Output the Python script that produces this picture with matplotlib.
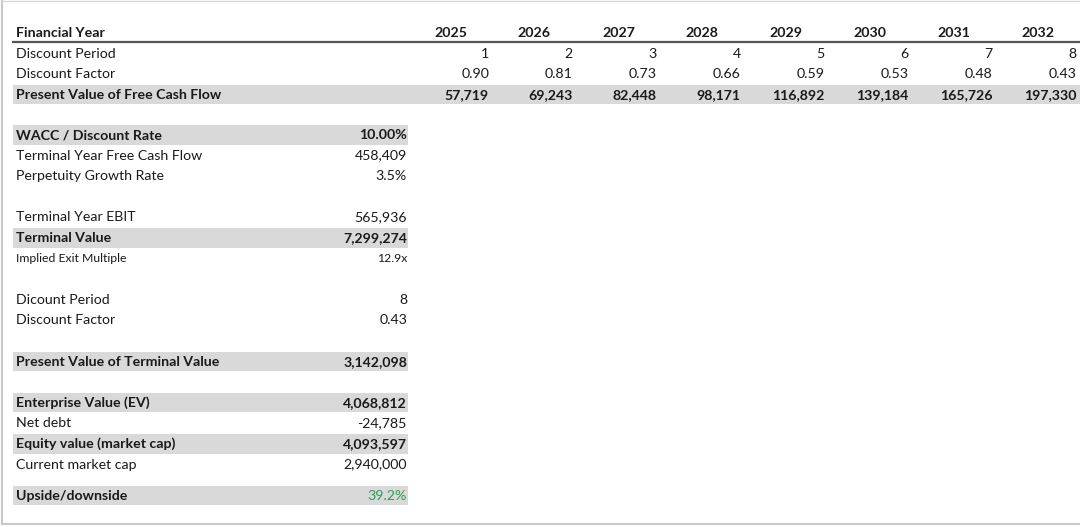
import matplotlib.pyplot as plt
from matplotlib.patches import Rectangle

plt.rcParams['font.family'] = ['Lato', 'DejaVu Sans']

# top table: free cash flow by year
years = [2025, 2026, 2027, 2028, 2029, 2030, 2031, 2032]
discount_period = [1, 2, 3, 4, 5, 6, 7, 8]
discount_factor = [0.90, 0.81, 0.73, 0.66, 0.59, 0.53, 0.48, 0.43]
pv_fcf = [57719, 69243, 82448, 98171, 116892, 139184, 165726, 197330]

# summary block
summary_labels = ['WACC / Discount Rate', 'Terminal Year Free Cash Flow', 'Perpetuity Growth Rate',
                  'Terminal Year EBIT', 'Terminal Value', 'Implied Exit Multiple',
                  'Dicount Period', 'Discount Factor',
                  'Present Value of Terminal Value',
                  'Enterprise Value (EV)', 'Net debt', 'Equity value (market cap)', 'Current market cap',
                  'Upside/downside']
summary_values = [10.00, 458409, 3.5, 565936, 7299274, 12.9, 8, 0.43,
                  3142098, 4068812, -24785, 4093597, 2940000, 39.2]
summary_fmt = ['{:.2f}%', '{:,.0f}', '{:.1f}%', '{:,.0f}', '{:,.0f}', '{:.1f}x', '{:d}', '{:.2f}',
               '{:,.0f}', '{:,.0f}', '{:,.0f}', '{:,.0f}', '{:,.0f}', '{:.1f}%']
summary_bold = [True, False, False, False, True, False, False, False,
                True, True, False, True, False, True]

W, H = 1080, 527
fig = plt.figure(figsize=(W / 100, H / 100), dpi=100)
ax = fig.add_axes([0, 0, 1, 1])
ax.set_xlim(0, W)
ax.set_ylim(H, 0)
ax.axis('off')

TXT = '#1a1a1a'
BAND = '#d9d9d9'
FS = 10.2
step = 20.6

# frame
ax.plot([2, 2], [1, 524], color='#c8c8c8', lw=1.5)
ax.plot([2, W], [1, 1], color='#d8d8d8', lw=1)
ax.plot([2, W], [524, 524], color='#c8c8c8', lw=1.5)

# ---- top table
col_right = [489 + i * 83.9 for i in range(len(years))]
top_y = [33 + i * step for i in range(4)]

ax.add_patch(Rectangle((13, top_y[3] - 10), W - 13, 19.5, color=BAND, lw=0))
ax.plot([13, W], [42, 42], color='#555555', lw=1.6)

ax.text(16, top_y[0], 'Financial Year', fontsize=FS, fontweight='bold', color=TXT, va='center')
ax.text(16, top_y[1], 'Discount Period', fontsize=FS, color=TXT, va='center')
ax.text(16, top_y[2], 'Discount Factor', fontsize=FS, color=TXT, va='center')
ax.text(16, top_y[3], 'Present Value of Free Cash Flow', fontsize=FS, fontweight='bold', color=TXT, va='center')

for i, yr in enumerate(years):
    x = col_right[i]
    ax.text(x - 22, top_y[0], str(yr), fontsize=FS, fontweight='bold', color=TXT, ha='right', va='center')
    ax.text(x, top_y[1], str(discount_period[i]), fontsize=FS, color=TXT, ha='right', va='center')
    ax.text(x, top_y[2], f'{discount_factor[i]:.2f}', fontsize=FS, color=TXT, ha='right', va='center')
    ax.text(x, top_y[3], f'{pv_fcf[i]:,.0f}', fontsize=FS, fontweight='bold', color=TXT, ha='right', va='center')

# ---- summary block (row slots leave blank spacer rows)
slots = [0, 1, 2, 4, 5, 6, 8, 9, 11, 13, 14, 15, 16, 17.5]
for lab, val, fmt, bold, s in zip(summary_labels, summary_values, summary_fmt, summary_bold, slots):
    y = 135 + s * step
    if bold:
        ax.add_patch(Rectangle((13, y - 10), 395, 19.5, color=BAND, lw=0))
    fw = 'bold' if bold else 'normal'
    fs = 8.8 if lab == 'Implied Exit Multiple' else FS
    vcol = '#2e9e5b' if lab == 'Upside/downside' else TXT
    vfw = fw if lab != 'Upside/downside' else 'normal'
    ax.text(16, y, lab, fontsize=fs, fontweight=fw, color=TXT, va='center')
    ax.text(407, y, fmt.format(val), fontsize=fs, fontweight=vfw, color=vcol, ha='right', va='center')

fig.savefig('out.png', dpi=100, facecolor='white')
